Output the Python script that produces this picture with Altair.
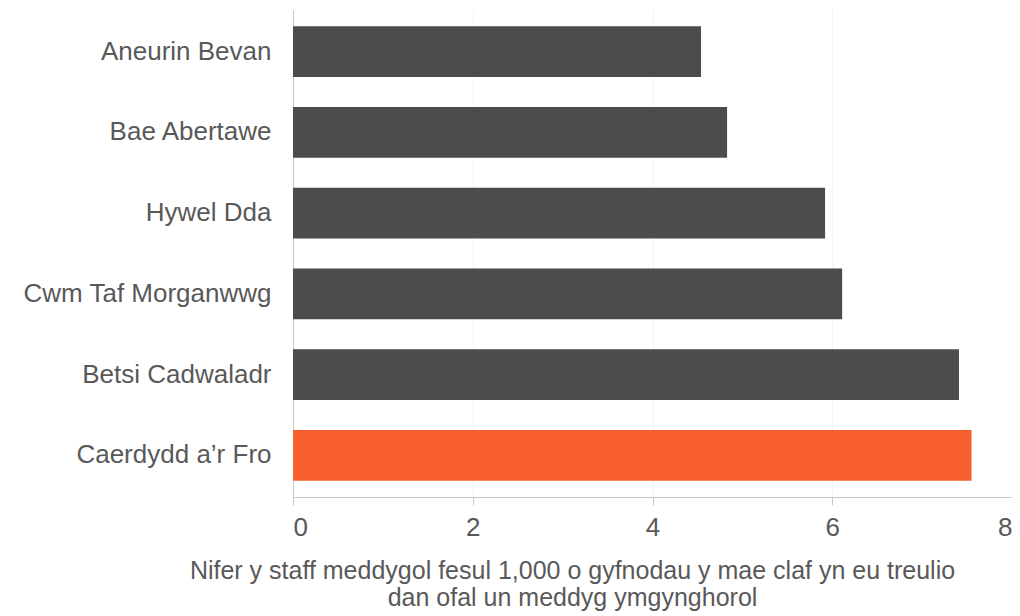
import altair as alt
import pandas as pd

boards = ["Aneurin Bevan", "Bae Abertawe", "Hywel Dda", "Cwm Taf Morganwwg",
          "Betsi Cadwaladr", "Caerdydd a’r Fro"]
values = [4.54, 4.83, 5.92, 6.11, 7.41, 7.55]
highlight = [False, False, False, False, False, True]
x_ticks = [0, 2, 4, 6, 8]
x_title = ["Nifer y staff meddygol fesul 1,000 o gyfnodau y mae claf yn eu treulio",
           "dan ofal un meddyg ymgynghorol"]

df = pd.DataFrame({"board": boards, "value": values, "hl": highlight})

FONT = "Liberation Sans"
TXT = "#595959"

chart = alt.Chart(df).mark_bar().encode(
    y=alt.Y("board:N", sort=boards,
            scale=alt.Scale(paddingInner=0.37, paddingOuter=0.2),
            axis=alt.Axis(title=None, ticks=False, labelFontSize=26, labelFont=FONT,
                          labelColor=TXT, labelPadding=22, domainColor="#c8c8c8",
                          labelLimit=400)),
    x=alt.X("value:Q", scale=alt.Scale(domain=[0, 8], nice=False),
            axis=alt.Axis(values=x_ticks, title=x_title, labelFontSize=26, labelFont=FONT,
                          labelColor=TXT, labelPadding=9, tickSize=8, tickColor="#c8c8c8",
                          domainColor="#c8c8c8", grid=True, gridColor="#f3f3f3",
                          titleFont=FONT, titleFontSize=25, titleFontWeight="normal",
                          titleColor=TXT, titleX=279, titleY=81, titleAlign="center",
                          titleBaseline="alphabetic", titleLineHeight=27)),
    color=alt.Color("hl:N", scale=alt.Scale(domain=[False, True], range=["#4a4c4e", "#f75f2e"]),
                    legend=None),
).properties(
    width=719, height=487,
    autosize=alt.AutoSizeParams(type="none"),
    padding={"left": 285, "top": 2, "right": 0, "bottom": 119},
).configure_view(stroke=None)

chart.save("out.html", embed_options={"renderer": "svg", "actions": False})
